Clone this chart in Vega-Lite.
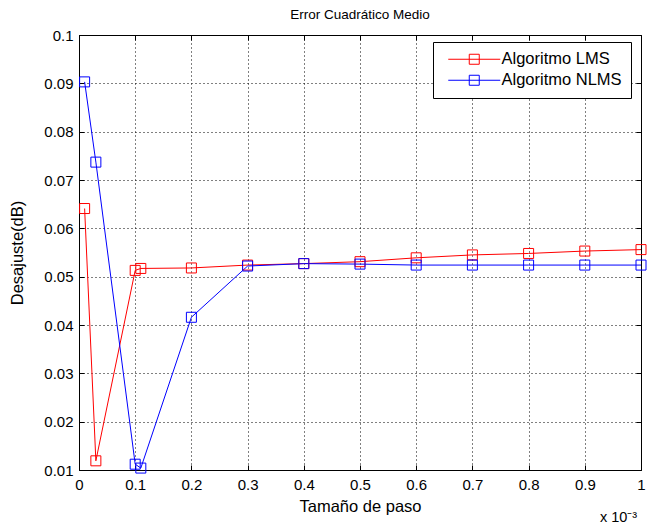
{
  "$schema": "https://vega.github.io/schema/vega-lite/v6.json",
  "autosize": {"type": "none"},
  "padding": {"left": 79, "top": 35, "right": 16, "bottom": 54},
  "width": 562,
  "height": 435,
  "background": "white",
  "config": {
    "font": "Liberation Sans",
    "view": {"stroke": "black", "strokeWidth": 1},
    "axis": {"labelFont": "Liberation Sans", "titleFont": "Liberation Sans", "labelColor": "black", "titleColor": "black", "titleFontWeight": "normal", "labelFontSize": 15, "titleFontSize": 16.5}
  },
  "title": {"text": "Error Cuadrático Medio", "font": "Liberation Sans", "fontSize": 13.5, "fontWeight": "normal", "color": "black", "anchor": "middle", "offset": 7},
  "data": {"values": [
    {"paso": 0.01, "mse": 0.0641, "serie": "Algoritmo LMS"},
    {"paso": 0.03, "mse": 0.0119, "serie": "Algoritmo LMS"},
    {"paso": 0.1, "mse": 0.0513, "serie": "Algoritmo LMS"},
    {"paso": 0.11, "mse": 0.0517, "serie": "Algoritmo LMS"},
    {"paso": 0.2, "mse": 0.0518, "serie": "Algoritmo LMS"},
    {"paso": 0.3, "mse": 0.0524, "serie": "Algoritmo LMS"},
    {"paso": 0.4, "mse": 0.0527, "serie": "Algoritmo LMS"},
    {"paso": 0.5, "mse": 0.0531, "serie": "Algoritmo LMS"},
    {"paso": 0.6, "mse": 0.0539, "serie": "Algoritmo LMS"},
    {"paso": 0.7, "mse": 0.0545, "serie": "Algoritmo LMS"},
    {"paso": 0.8, "mse": 0.0548, "serie": "Algoritmo LMS"},
    {"paso": 0.9, "mse": 0.0553, "serie": "Algoritmo LMS"},
    {"paso": 1.0, "mse": 0.0556, "serie": "Algoritmo LMS"},
    {"paso": 0.01, "mse": 0.0903, "serie": "Algoritmo NLMS"},
    {"paso": 0.03, "mse": 0.0737, "serie": "Algoritmo NLMS"},
    {"paso": 0.1, "mse": 0.0112, "serie": "Algoritmo NLMS"},
    {"paso": 0.11, "mse": 0.0104, "serie": "Algoritmo NLMS"},
    {"paso": 0.2, "mse": 0.0416, "serie": "Algoritmo NLMS"},
    {"paso": 0.3, "mse": 0.0522, "serie": "Algoritmo NLMS"},
    {"paso": 0.4, "mse": 0.0527, "serie": "Algoritmo NLMS"},
    {"paso": 0.5, "mse": 0.0526, "serie": "Algoritmo NLMS"},
    {"paso": 0.6, "mse": 0.0524, "serie": "Algoritmo NLMS"},
    {"paso": 0.7, "mse": 0.0524, "serie": "Algoritmo NLMS"},
    {"paso": 0.8, "mse": 0.0524, "serie": "Algoritmo NLMS"},
    {"paso": 0.9, "mse": 0.0524, "serie": "Algoritmo NLMS"},
    {"paso": 1.0, "mse": 0.0524, "serie": "Algoritmo NLMS"}
  ]},
  "resolve": {"axis": {"x": "independent", "y": "independent"}},
  "layer": [
    {
      "mark": {"type": "line", "strokeWidth": 1},
      "encoding": {
        "x": {"field": "paso", "type": "quantitative", "scale": {"domain": [0, 1], "nice": false, "zero": false},
          "axis": {"orient": "bottom", "values": [0, 0.1, 0.2, 0.3, 0.4, 0.5, 0.6, 0.7, 0.8, 0.9, 1], "format": "~g", "title": "Tamaño de paso", "titleX": 281, "titleY": 28, "titleBaseline": "top", "tickSize": -5, "tickColor": "black", "domainColor": "black", "labelPadding": 12, "labelFlush": false, "grid": true, "gridColor": "black", "gridOpacity": 1, "gridDash": [1, 3]}},
        "y": {"field": "mse", "type": "quantitative", "scale": {"domain": [0.01, 0.1], "nice": false, "zero": false},
          "axis": {"orient": "left", "values": [0.01, 0.02, 0.03, 0.04, 0.05, 0.06, 0.07, 0.08, 0.09, 0.1], "format": "~g", "title": "Desajuste(dB)", "titleX": -62, "titleBaseline": "middle", "tickSize": -5, "tickColor": "black", "domainColor": "black", "labelPadding": 11, "labelFlush": false, "grid": true, "gridColor": "black", "gridOpacity": 1, "gridDash": [1, 3]}},
        "color": {"field": "serie", "type": "nominal", "scale": {"domain": ["Algoritmo LMS", "Algoritmo NLMS"], "range": ["#ff0000", "#0000ff"]},
          "legend": {"title": null, "orient": "none", "legendX": 354, "legendY": 7, "strokeColor": "black", "fillColor": "white", "padding": 9, "cornerRadius": 0,
            "symbolType": "M-1,0H9.4M3.2,-1H5.2V1H3.2Z", "symbolSize": 100, "symbolStrokeWidth": 1, "symbolFillColor": "transparent", "symbolOffset": 3,
            "labelOffset": 40, "labelFontSize": 16.5, "labelFont": "Liberation Sans", "labelColor": "black", "rowPadding": 4}}
      }
    },
    {
      "mark": {"type": "point", "shape": "square", "filled": false, "size": 100, "strokeWidth": 1, "opacity": 1},
      "encoding": {
        "x": {"field": "paso", "type": "quantitative", "axis": {"orient": "top", "values": [0, 0.1, 0.2, 0.3, 0.4, 0.5, 0.6, 0.7, 0.8, 0.9, 1], "labels": false, "title": null, "tickSize": -5, "tickColor": "black", "domain": false, "grid": false}},
        "y": {"field": "mse", "type": "quantitative", "axis": {"orient": "right", "values": [0.01, 0.02, 0.03, 0.04, 0.05, 0.06, 0.07, 0.08, 0.09, 0.1], "labels": false, "title": null, "tickSize": -5, "tickColor": "black", "domain": false, "grid": false}},
        "color": {"field": "serie", "type": "nominal"}
      }
    },
    {
      "mark": {"type": "point", "opacity": 0},
      "encoding": {
        "x": {"field": "paso", "type": "quantitative", "axis": {"orient": "bottom", "labels": false, "ticks": false, "domain": false, "grid": false, "title": "x 10⁻³", "titleX": 539, "titleY": 51, "titleAnchor": "middle", "titleBaseline": "alphabetic", "titleFontSize": 14.5}},
        "y": {"field": "mse", "type": "quantitative", "axis": null}
      }
    }
  ]
}
